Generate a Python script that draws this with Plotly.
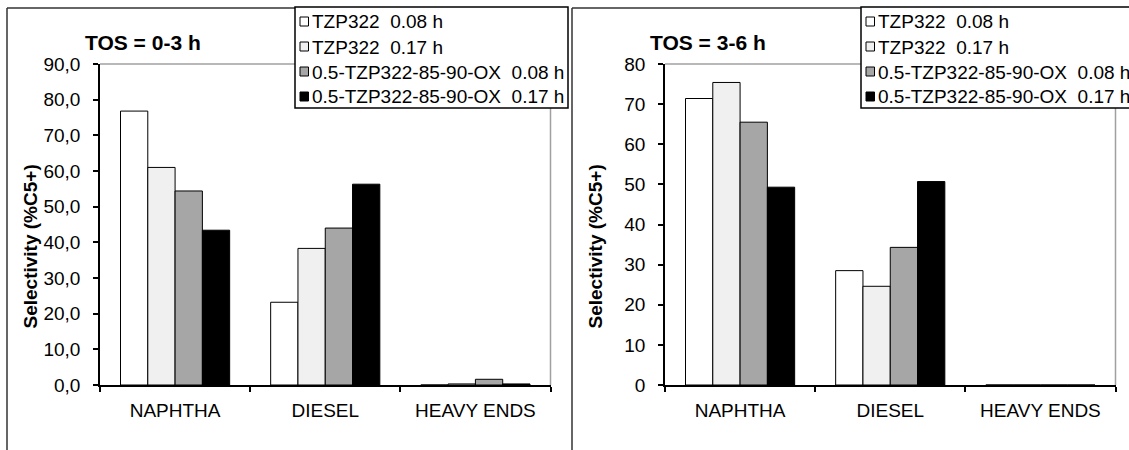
import plotly.graph_objects as go

categories = ["NAPHTHA", "DIESEL", "HEAVY ENDS"]
series_names = ["TZP322\u00a0 0.08 h", "TZP322\u00a0 0.17 h",
                "0.5-TZP322-85-90-OX\u00a0 0.08 h", "0.5-TZP322-85-90-OX\u00a0 0.17 h"]
series_colors = ["#FFFFFF", "#F0F0F0", "#A6A6A6", "#000000"]

# TOS = 0-3 h
left_s1 = [76.8, 23.2, 0.0]
left_s2 = [61.0, 38.3, 0.3]
left_s3 = [54.4, 44.0, 1.6]
left_s4 = [43.4, 56.3, 0.3]
# TOS = 3-6 h
right_s1 = [71.4, 28.5, 0.0]
right_s2 = [75.4, 24.6, 0.0]
right_s3 = [65.5, 34.3, 0.0]
right_s4 = [49.3, 50.7, 0.0]

left_ticks = [0, 10, 20, 30, 40, 50, 60, 70, 80, 90]
right_ticks = [0, 10, 20, 30, 40, 50, 60, 70, 80]

panel_titles = ["<b>TOS = 0-3 h</b>", "<b>TOS = 3-6 h</b>"]
y_title = "<b>Selectivity (%C5+)</b>"

W, H = 1129, 450
FONT = "Liberation Sans, Arial, sans-serif"
FS = 19
SHIFT = 565  # horizontal offset of the right panel

fig = go.Figure()
for i, vals in enumerate([left_s1, left_s2, left_s3, left_s4]):
    fig.add_trace(go.Bar(x=categories, y=vals, name=series_names[i], showlegend=False,
                         marker=dict(color=series_colors[i], line=dict(color="black", width=1)),
                         xaxis="x", yaxis="y"))
for i, vals in enumerate([right_s1, right_s2, right_s3, right_s4]):
    fig.add_trace(go.Bar(x=categories, y=vals, name=series_names[i], showlegend=False,
                         marker=dict(color=series_colors[i], line=dict(color="black", width=1)),
                         xaxis="x2", yaxis="y2"))

def px_x(v):
    return v / W

def px_y(v):
    return 1 - v / H

axis_common = dict(showline=True, linecolor="black", linewidth=1.5, ticks="outside",
                   ticklen=5, tickcolor="black", tickwidth=1.5, showgrid=False,
                   zeroline=False, automargin=False,
                   tickfont=dict(family=FONT, size=FS, color="black"))

fig.update_layout(
    template="none",
    width=W, height=H, margin=dict(l=0, r=0, t=0, b=0, pad=0),
    paper_bgcolor="white", plot_bgcolor="white",
    barmode="group", bargap=0.273, bargroupgap=0,
    separators=",.",
    showlegend=False,
    font=dict(family=FONT, size=FS, color="black"),
    xaxis=dict(domain=[px_x(100), px_x(550.5)], anchor="y", type="category",
               tickson="boundaries", ticklabelstandoff=7, **axis_common),
    yaxis=dict(domain=[px_y(385), px_y(64)], anchor="x", range=[0, 90],
               tickvals=left_ticks, tickformat=".1f", ticklabelstandoff=9,
               **axis_common),
    xaxis2=dict(domain=[px_x(100 + SHIFT), px_x(550.5 + SHIFT)], anchor="y2", type="category",
                tickson="boundaries", ticklabelstandoff=7, **axis_common),
    yaxis2=dict(domain=[px_y(385), px_y(64)], anchor="x2", range=[0, 80],
                tickvals=right_ticks, tickformat="d", ticklabelstandoff=9,
                **axis_common),
)

shapes = []
annotations = []
for p in range(2):
    off = p * SHIFT
    # chart frame (left + top edges)
    fx0 = 7 + off
    fx1 = 568 + off if p == 0 else 1135
    shapes.append(dict(type="line", xref="paper", yref="paper", x0=px_x(fx0), x1=px_x(fx0),
                       y0=px_y(8), y1=-0.05, line=dict(color="#333333", width=1.5)))
    shapes.append(dict(type="line", xref="paper", yref="paper", x0=px_x(fx0), x1=px_x(fx1),
                       y0=px_y(8), y1=px_y(8), line=dict(color="#333333", width=1.5)))
    # plot-area gray border (top + right)
    xr = "x domain" if p == 0 else "x2 domain"
    yr = "y domain" if p == 0 else "y2 domain"
    shapes.append(dict(type="line", xref=xr, yref=yr, x0=0, x1=1, y0=1, y1=1,
                       line=dict(color="#A0A0A0", width=1.5), layer="below"))
    shapes.append(dict(type="line", xref=xr, yref=yr, x0=1, x1=1, y0=0, y1=1,
                       line=dict(color="#A0A0A0", width=1.5), layer="below"))
    # legend box
    lx0 = 295 + off + (1 if p else 0)
    shapes.append(dict(type="rect", xref="paper", yref="paper",
                       x0=px_x(lx0), x1=px_x(lx0 + 273), y0=px_y(108), y1=px_y(7),
                       fillcolor="white", line=dict(color="black", width=1.5)))
    for i, name in enumerate(series_names):
        cy = 21.5 + 25 * i
        shapes.append(dict(type="rect", xref="paper", yref="paper",
                           x0=px_x(lx0 + 5), x1=px_x(lx0 + 13.5),
                           y0=px_y(cy + 4.5), y1=px_y(cy - 4.5),
                           fillcolor=series_colors[i], line=dict(color="black", width=1)))
        annotations.append(dict(text=name, xref="paper", yref="paper",
                                x=px_x(lx0 + 15), y=px_y(cy + 0.5), xanchor="left",
                                yanchor="middle", showarrow=False,
                                font=dict(family=FONT, size=FS, color="black")))
    # panel title
    annotations.append(dict(text=panel_titles[p], xref="paper", yref="paper",
                            x=px_x(143 + off), y=px_y(42.5), xanchor="center",
                            yanchor="middle", showarrow=False,
                            font=dict(family=FONT, size=21, color="black")))
    # y-axis title
    annotations.append(dict(text=y_title, xref="paper", yref="paper",
                            x=px_x(30 + off), y=px_y(246.5), xanchor="center",
                            yanchor="middle", textangle=-90, showarrow=False,
                            font=dict(family=FONT, size=FS, color="black")))

fig.update_layout(shapes=shapes, annotations=annotations)

fig.write_html("out.html")
